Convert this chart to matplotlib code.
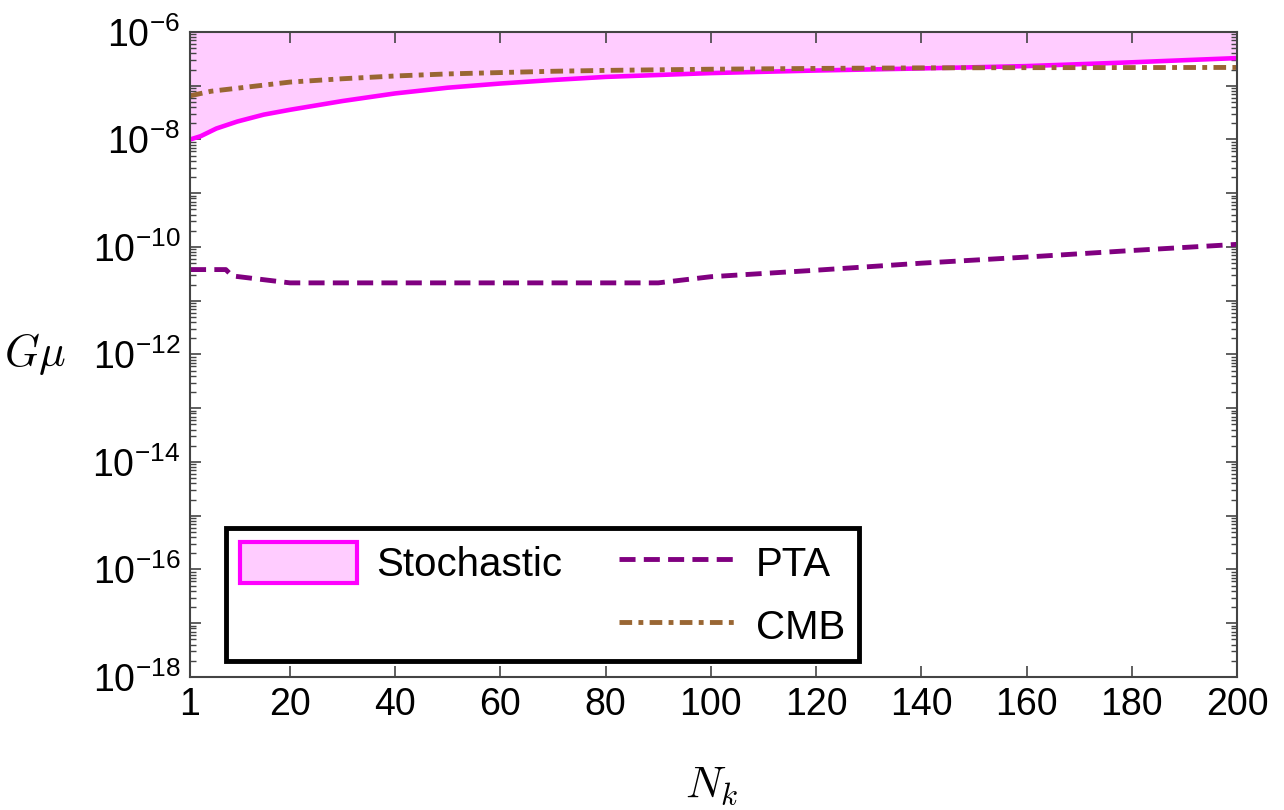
import matplotlib
matplotlib.use("Agg")
import matplotlib.pyplot as plt
from matplotlib.patches import Patch
from matplotlib.lines import Line2D
from matplotlib.ticker import LogLocator, FuncFormatter, NullFormatter
import numpy as np

plt.rcParams['font.family'] = ['Liberation Sans', 'DejaVu Sans']
plt.rcParams['mathtext.fontset'] = 'cm'

# Stochastic bound (lower edge of the shaded region)
n_stoch = [1, 3, 6, 10, 15, 20, 30, 40, 50, 60, 70, 80, 100, 120, 140, 160, 180, 200]
g_stoch = [1.0e-8, 1.15e-8, 1.6e-8, 2.16e-8, 2.9e-8, 3.57e-8, 5.2e-8, 7.2e-8, 9.2e-8,
           1.1e-7, 1.28e-7, 1.46e-7, 1.72e-7, 1.92e-7, 2.1e-7, 2.32e-7, 2.73e-7, 3.27e-7]

# PTA bound
n_pta = [1, 7.8, 9, 20, 90, 100, 120, 140, 160, 180, 200]
g_pta = [3.8e-11, 3.8e-11, 2.9e-11, 2.15e-11, 2.15e-11, 2.8e-11, 3.7e-11, 5.0e-11,
         6.5e-11, 8.6e-11, 1.12e-10]

# CMB bound
n_cmb = [1, 5, 10, 20, 30, 40, 50, 60, 70, 80, 100, 120, 140, 160, 180, 200]
g_cmb = [6.5e-8, 7.9e-8, 9.0e-8, 1.17e-7, 1.35e-7, 1.52e-7, 1.66e-7, 1.76e-7, 1.86e-7,
         1.93e-7, 2.03e-7, 2.1e-7, 2.15e-7, 2.17e-7, 2.18e-7, 2.19e-7]

xticks = [1, 20, 40, 60, 80, 100, 120, 140, 160, 180, 200]

pink = '#FFCCFF'
magenta = '#FF00FF'
purple = '#800080'
brown = '#996633'

pta_ls = (0, (3.3, 1.7))
cmb_ls = (0, (2.6, 1.3, 1.0, 1.3))

fig = plt.figure(figsize=(12.84, 8.10), dpi=100)
ax = fig.add_axes([0.148, 0.1642, 0.8154, 0.7963])

ax.fill_between(n_stoch, g_stoch, 1e-6, color=pink, lw=0)
ax.plot(n_stoch, g_stoch, color=magenta, lw=3.3)
ax.plot(n_pta, g_pta, color=purple, lw=3.5, linestyle=pta_ls, dash_capstyle='butt')
ax.plot(n_cmb, g_cmb, color=brown, lw=3.5, linestyle=cmb_ls, dash_capstyle='butt')

ax.set_yscale('log')
ax.set_xlim(1, 200)
ax.set_ylim(1e-18, 1e-6)
ax.set_xticks(xticks)
ax.set_xticklabels([str(t) for t in xticks])

ax.yaxis.set_major_locator(LogLocator(base=10, numticks=30))
ax.yaxis.set_minor_locator(LogLocator(base=10, subs=np.arange(2, 10), numticks=30))
ax.yaxis.set_minor_formatter(NullFormatter())


def fmt(v, pos):
    e = int(round(np.log10(v)))
    if e % 2:
        return ''
    return r'$\mathregular{10^{%d}}$' % e


ax.yaxis.set_major_formatter(FuncFormatter(fmt))

ax.tick_params(which='both', direction='in', top=True, right=True, color='#444444',
               labelsize=27)
ax.tick_params(which='major', length=8, width=1.2, pad=7)
ax.tick_params(which='minor', length=4.5, width=1.0)
for s in ax.spines.values():
    s.set_color('#444444')
    s.set_linewidth(1.5)

ax.set_ylabel(r'$G\mu$', fontsize=32, rotation=0, ha='center', va='center')
ax.yaxis.set_label_coords(-0.148, 0.50)
ax.set_xlabel(r'$N_k$', fontsize=32)
ax.xaxis.set_label_coords(0.4986, -0.136)

handles = [Patch(facecolor=pink, edgecolor=magenta, lw=3),
           Line2D([], [], color='none'),
           Line2D([], [], color=purple, lw=3.5, linestyle=pta_ls),
           Line2D([], [], color=brown, lw=3.5, linestyle=cmb_ls)]
labels = ['Stochastic', '', 'PTA', 'CMB']
leg = ax.legend(handles, labels, ncol=2, loc='lower left', bbox_to_anchor=(0.034, 0.025),
                borderaxespad=0, fontsize=29, handlelength=2.9, handleheight=1.2,
                handletextpad=0.5, columnspacing=1.4, labelspacing=0.5,
                borderpad=0.35, fancybox=False, framealpha=1)
leg.get_frame().set_edgecolor('black')
leg.get_frame().set_linewidth(3.5)

fig.savefig('out.png', dpi=100)
